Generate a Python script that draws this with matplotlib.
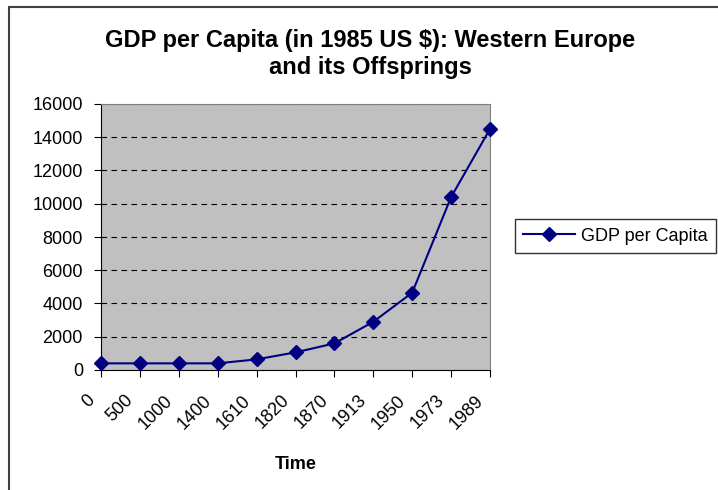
import matplotlib.pyplot as plt
import matplotlib.transforms as mtransforms
from matplotlib.patches import Rectangle

plt.rcParams['font.family'] = ['Liberation Sans', 'DejaVu Sans']

years = ['0', '500', '1000', '1400', '1610', '1820', '1870', '1913', '1950', '1973', '1989']
gdp_per_capita = [400, 400, 400, 400, 640, 1060, 1600, 2900, 4650, 10400, 14500]
yticks = [0, 2000, 4000, 6000, 8000, 10000, 12000, 14000, 16000]

fig = plt.figure(figsize=(7.18, 4.9), dpi=100)
fig.patches.append(Rectangle((9 / 718, -0.1), 1.2, 1 - 7 / 490 + 0.1,
                             transform=fig.transFigure, fill=False,
                             edgecolor='#404040', linewidth=1.5))

ax = fig.add_axes([101 / 718, 1 - 370 / 490, 389 / 718, 266 / 490])
ax.set_facecolor('#C0C0C0')

x = list(range(len(years)))
ax.plot(x, gdp_per_capita, color='#000080', marker='D', markersize=7,
        linewidth=1.5, label='GDP per Capita', clip_on=False, zorder=3)

ax.set_xlim(0, len(years) - 1)
ax.set_ylim(0, 16000)
ax.set_yticks(yticks)
ax.set_xticks(x)
ax.set_xticklabels(years, rotation=45, ha='right', va='top', rotation_mode='anchor')
ax.tick_params(axis='both', labelsize=13, length=5, direction='out', color='black')
ax.tick_params(axis='x', pad=5)
ax.tick_params(axis='y', pad=8)

# shift the slanted year labels down-left like the original
shift = mtransforms.ScaledTranslation(-15 / 100, -8 / 100, fig.dpi_scale_trans)
for lbl in ax.get_xticklabels():
    lbl.set_transform(lbl.get_transform() + shift)

ax.grid(axis='y', color='black', linestyle=(0, (5, 4)), linewidth=0.8)
ax.set_axisbelow(True)
for side in ['top', 'right']:
    ax.spines[side].set_color('#808080')
for side in ['left', 'bottom']:
    ax.spines[side].set_color('black')

ax.set_xlabel('Time', fontsize=13, fontweight='bold', labelpad=17)

fig.text(370 / 718, 1 - 54 / 490,
         'GDP per Capita (in 1985 US $): Western Europe\nand its Offsprings',
         ha='center', va='center', fontsize=17, fontweight='bold', linespacing=1.2)

leg = ax.legend(loc='center left', bbox_to_anchor=(515 / 718, 1 - 236 / 490),
                bbox_transform=fig.transFigure, fontsize=13, frameon=True,
                fancybox=False, edgecolor='black', handlelength=2.9,
                handletextpad=0.3, borderaxespad=0, borderpad=0.45)
leg.get_frame().set_linewidth(1)

fig.savefig('out.png', dpi=100)
